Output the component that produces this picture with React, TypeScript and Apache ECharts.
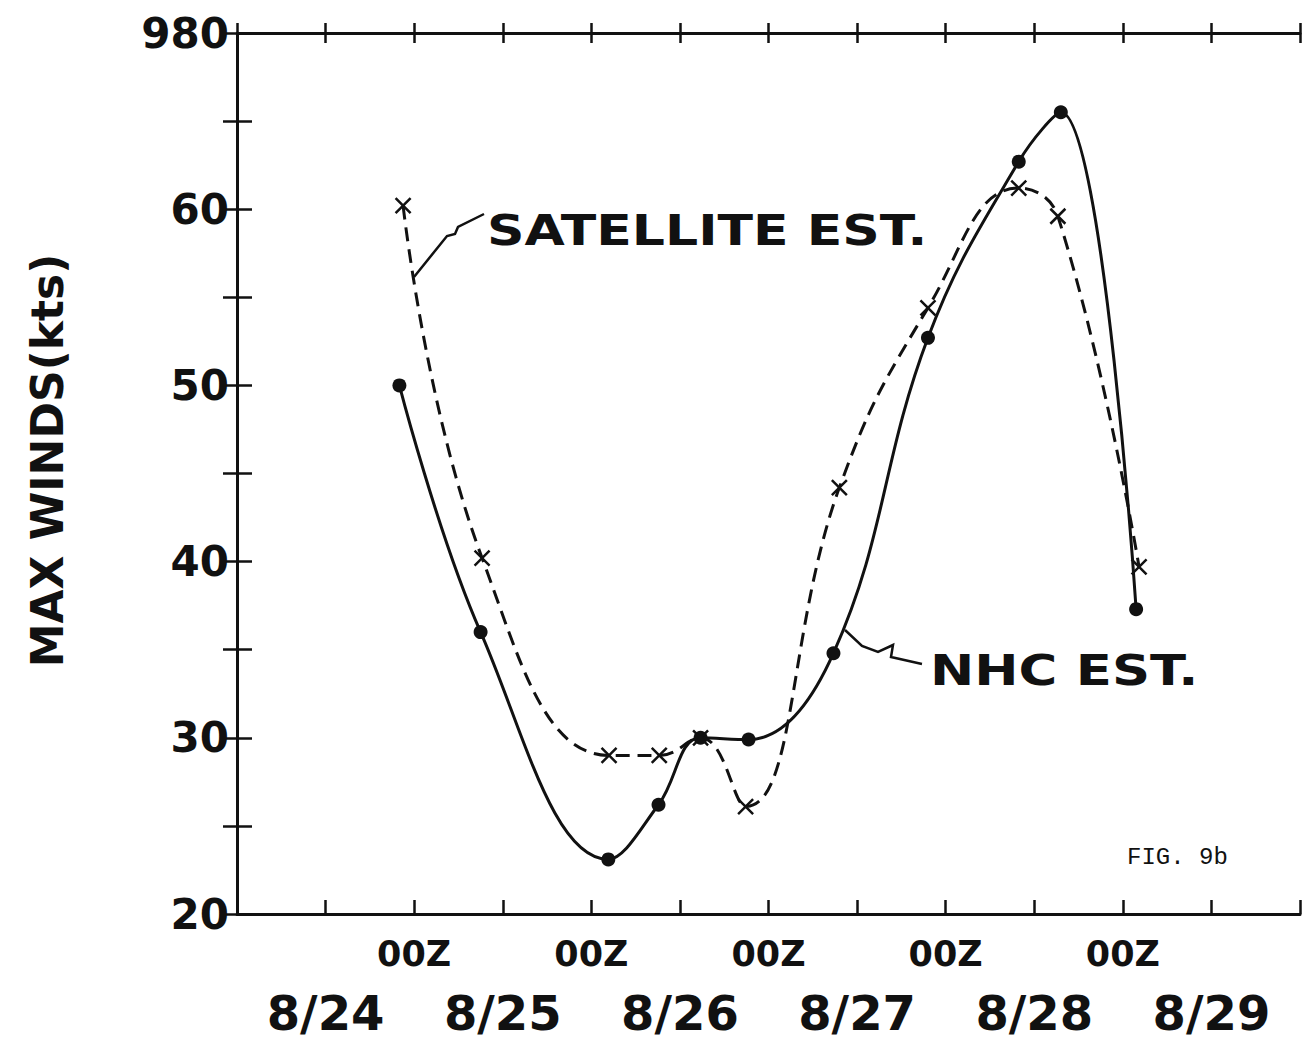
import React, { useEffect, useRef } from 'react';
import * as echarts from 'echarts';

// Hours from left edge of the time axis (each tick = 12 h)
const nhcHours = [22, 33, 50.3, 57.1, 62.8, 69.3, 80.8, 93.6, 105.9, 111.6, 121.8];
const nhcWinds = [50.0, 36.0, 23.1, 26.2, 30.0, 29.9, 34.8, 52.7, 62.7, 65.5, 37.3];
const satHours = [22.5, 33.2, 50.4, 57.2, 62.8, 68.9, 81.6, 93.6, 105.9, 111.2, 122.2];
const satWinds = [60.2, 40.2, 29.0, 29.0, 30.0, 26.1, 44.2, 54.4, 61.2, 59.6, 39.7];

const zHours = [24, 48, 72, 96, 120];
const zLabels = ['00Z', '00Z', '00Z', '00Z', '00Z'];
const dateHours = [12, 36, 60, 84, 108, 132];
const dateLabels = ['8/24', '8/25', '8/26', '8/27', '8/28', '8/29'];
const yTickValues = [20, 30, 40, 50, 60, 70];
const yTickLabels = ['20', '30', '40', '50', '60', '980'];

const lookup = (keys: number[], labels: string[], v: number) => {
  const i = keys.findIndex((k) => Math.abs(k - v) < 1e-6);
  return i >= 0 ? labels[i] : '';
};

const INK = '#111';
const BOLD = 'DejaVu Sans';

export default function App() {
  const ref = useRef<HTMLDivElement>(null);

  useEffect(() => {
    if (!ref.current) return;
    const chart = echarts.init(ref.current, undefined, { renderer: 'svg' });

    const gridRect = { left: 237, right: 10, top: 33, bottom: 131 };
    const xBase = { type: 'value' as const, min: 0, max: 144, interval: 12, splitLine: { show: false } };
    const yBase = { type: 'value' as const, min: 20, max: 70, interval: 10, splitLine: { show: false } };
    const line = { show: true, lineStyle: { color: INK, width: 3 } };
    const tickStyle = { color: INK, width: 2.5 };

    const option: any = {
      animation: false,
      backgroundColor: '#fff',
      grid: [{ ...gridRect }, { ...gridRect }],
      xAxis: [
        {
          ...xBase,
          gridIndex: 0,
          position: 'bottom',
          axisLine: line,
          axisTick: { show: true, inside: true, length: 14, lineStyle: tickStyle },
          axisLabel: {
            formatter: (v: number) => lookup(zHours, zLabels, v),
            margin: 22,
            fontSize: 35,
            fontWeight: 'bold',
            fontFamily: BOLD,
            color: INK,
          },
        },
        {
          ...xBase,
          gridIndex: 0,
          position: 'top',
          axisLine: line,
          axisTick: { show: true, inside: true, length: 10, lineStyle: tickStyle },
          axisLabel: { show: false },
        },
        {
          ...xBase,
          gridIndex: 1,
          position: 'bottom',
          axisLine: { show: false },
          axisTick: { show: false },
          axisLabel: {
            formatter: (v: number) => lookup(dateHours, dateLabels, v),
            margin: 75,
            fontSize: 48,
            fontWeight: 'bold',
            fontFamily: BOLD,
            color: INK,
          },
        },
        {
          ...xBase,
          gridIndex: 1,
          position: 'top',
          axisLine: { show: false },
          axisTick: { show: true, inside: false, length: 10, lineStyle: tickStyle },
          axisLabel: { show: false },
        },
      ],
      yAxis: [
        {
          ...yBase,
          gridIndex: 0,
          position: 'left',
          name: 'MAX WINDS(kts)',
          nameLocation: 'middle',
          nameRotate: 90,
          nameGap: 168,
          nameTextStyle: {
            fontSize: 44,
            fontWeight: 'bold',
            fontFamily: BOLD,
            color: INK,
            padding: [0, 0, 0, 26],
          },
          axisLine: line,
          axisTick: { show: true, inside: true, length: 15, lineStyle: tickStyle },
          minorTick: { show: true, splitNumber: 2, length: 15, lineStyle: tickStyle },
          axisLabel: {
            formatter: (v: number) => lookup(yTickValues, yTickLabels, v),
            margin: 8,
            fontSize: 42,
            fontWeight: 'bold',
            fontFamily: BOLD,
            color: INK,
          },
        },
        {
          ...yBase,
          gridIndex: 0,
          position: 'right',
          axisLine: line,
          axisTick: { show: true, inside: true, length: 14, lineStyle: tickStyle },
          minorTick: { show: true, splitNumber: 2, length: 14, lineStyle: tickStyle },
          axisLabel: { show: false },
        },
        {
          ...yBase,
          gridIndex: 1,
          position: 'left',
          axisLine: { show: false },
          axisTick: { show: false },
          axisLabel: { show: false },
        },
      ],
      series: [
        {
          name: 'NHC EST.',
          type: 'line',
          xAxisIndex: 0,
          yAxisIndex: 0,
          data: nhcHours.map((h, i) => [h, nhcWinds[i]]),
          smooth: 0.4,
          symbol: 'circle',
          symbolSize: 14,
          itemStyle: { color: INK },
          lineStyle: { color: INK, width: 3 },
          z: 3,
        },
        {
          name: 'SATELLITE EST.',
          type: 'line',
          xAxisIndex: 0,
          yAxisIndex: 0,
          data: satHours.map((h, i) => [h, satWinds[i]]),
          smooth: 0.45,
          symbol: 'path://M0,0L10,10M10,0L0,10',
          symbolSize: 15,
          itemStyle: { color: INK, borderColor: INK, borderWidth: 2.5 },
          lineStyle: { color: INK, width: 3, type: [14, 8] },
          z: 4,
        },
      ],
      graphic: [
        {
          type: 'text',
          x: 487,
          y: 230,
          scaleX: 1.24,
          style: {
            text: 'SATELLITE EST.',
            fontSize: 42,
            fontWeight: 'bold',
            fontFamily: BOLD,
            fill: INK,
            verticalAlign: 'middle',
          },
        },
        {
          type: 'text',
          x: 930,
          y: 670,
          scaleX: 1.26,
          style: {
            text: 'NHC EST.',
            fontSize: 42,
            fontWeight: 'bold',
            fontFamily: BOLD,
            fill: INK,
            verticalAlign: 'middle',
          },
        },
        {
          type: 'text',
          x: 1127,
          y: 857,
          style: {
            text: 'FIG. 9b',
            fontSize: 24,
            fontFamily: 'Liberation Mono',
            fill: INK,
            verticalAlign: 'middle',
          },
        },
        {
          type: 'polyline',
          shape: { points: [[484, 214], [458, 227], [455, 234], [447, 236], [414, 277]] },
          style: { stroke: INK, lineWidth: 2.5, fill: 'none' },
        },
        {
          type: 'polyline',
          shape: { points: [[845, 630], [862, 646], [878, 652], [893, 645], [891, 657], [922, 664]] },
          style: { stroke: INK, lineWidth: 2.5, fill: 'none' },
        },
      ],
    };

    chart.setOption(option);
    return () => chart.dispose();
  }, []);

  return (
    <div
      ref={ref}
      style={{ position: 'fixed', left: 0, top: 0, width: 1310, height: 1045, background: '#fff' }}
    />
  );
}
